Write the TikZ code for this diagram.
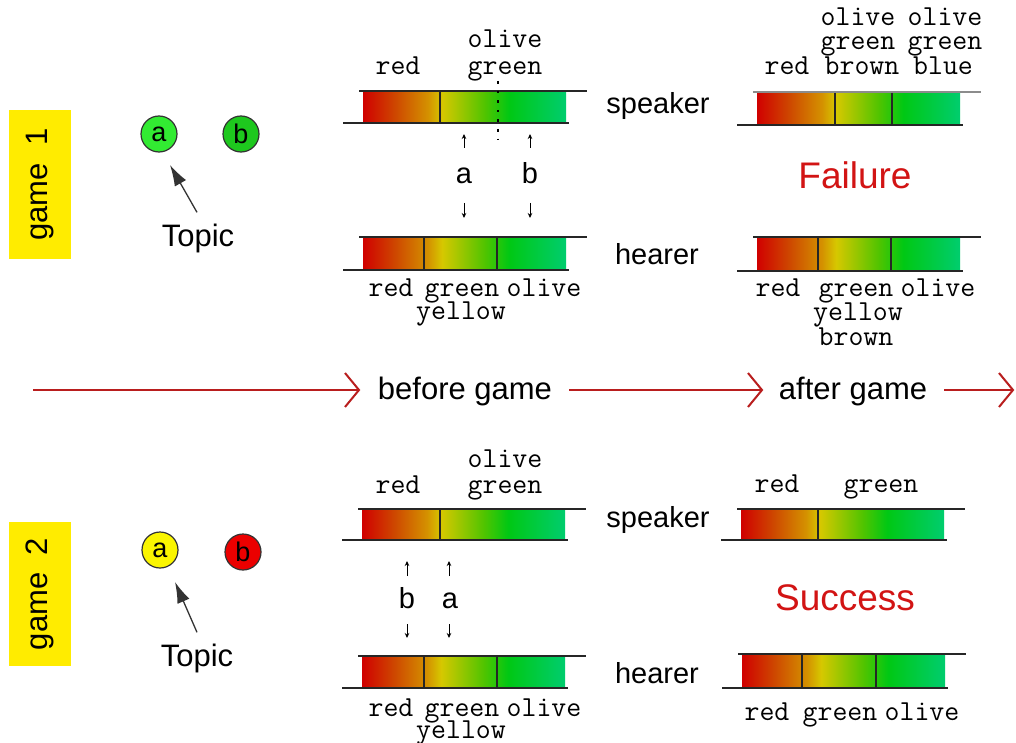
\documentclass[tikz,border=0pt]{standalone}
\usepackage{fontspec}
\setmainfont{Liberation Sans}
\setsansfont{Liberation Sans}
\usetikzlibrary{arrows.meta}
\definecolor{cR}{RGB}{208,0,0}
\definecolor{cO}{RGB}{206,72,0}
\definecolor{cA}{RGB}{212,145,0}
\definecolor{cY}{RGB}{214,200,0}
\definecolor{cYG}{RGB}{80,196,0}
\definecolor{cG}{RGB}{0,200,20}
\definecolor{cT}{RGB}{0,205,110}
\definecolor{gameyellow}{RGB}{255,236,0}
\definecolor{arrowred}{RGB}{185,30,30}
\definecolor{resred}{RGB}{210,20,20}
\definecolor{ballA}{RGB}{50,235,50}
\definecolor{ballB}{RGB}{30,200,30}
\definecolor{ballY}{RGB}{250,245,0}
\definecolor{ballR}{RGB}{235,0,0}
\pgfdeclarehorizontalshading{spectrum}{100bp}{color(0bp)=(cR); color(25bp)=(cR); color(33bp)=(cO); color(41bp)=(cA); color(44.5bp)=(cY); color(55bp)=(cYG); color(61bp)=(cG); color(75bp)=(cT); color(100bp)=(cT)}
\newcommand\colbar[3]{%
  \shade[shading=spectrum] (#1,#2+1.5) rectangle (#1+203,#3-1.5);
  \draw[barline] (#1-4,#2) -- (#1+224,#2);
  \draw[barline] (#1-20,#3) -- (#1+206,#3);
}
\tikzset{
  barline/.style={line width=1.5pt, black!85},
  divline/.style={line width=1.3pt, black!85},
  mono/.style={font=\ttfamily\fontsize{29}{27}\selectfont, inner sep=0pt, anchor=base},
  role/.style={font=\fontsize{29}{30}\selectfont, inner sep=0pt, anchor=base},
  letter/.style={font=\fontsize{29}{30}\selectfont, inner sep=0pt, anchor=base},
  result/.style={font=\fontsize{37}{38}\selectfont, text=resred, inner sep=0pt, anchor=base},
  gamebox/.style={fill=gameyellow, rotate=90, minimum height=62pt, inner sep=0pt, font=\fontsize{31}{32}\selectfont},
  ball/.style={circle, draw=black!80, line width=1.2pt, minimum size=36pt, inner sep=0pt, font=\fontsize{27}{28}\selectfont},
  topic/.style={font=\fontsize{31}{32}\selectfont, inner sep=0pt, anchor=base},
  topicarrow/.style={line width=1.3pt, black!80, -{Latex[length=21pt,width=13pt]}},
  small/.style={line width=0.9pt, -{Stealth[length=5pt,width=4.5pt]}},
  timeline/.style={line width=2pt, arrowred},
  chevron/.style={line width=2pt, arrowred, line join=miter},
  phase/.style={font=\fontsize{31}{32}\selectfont, inner sep=0pt, anchor=base}
}
\begin{document}
\begin{tikzpicture}[x=1pt,y=-1pt]
\useasboundingbox (0,0) rectangle (1016,743);
\fill[white] (0,0) rectangle (1016,743);

% ---------------- game 1 ----------------
\node[gamebox, minimum width=149pt] (g1) at (40,184.5) {game~~1};
\node[ball, fill=ballA] (g1a) at (159,134) {a};
\node[ball, fill=ballB] (g1b) at (241,134) {b};
\node[topic] (g1t) at (198,246) {Topic};
\coordinate (g1tip) at (170,165);
\draw[topicarrow] (g1t.north) ++(-1,-11) -- (g1tip);

% speaker before
\colbar{363}{91}{123}
\draw[divline] (440,92) -- (440,122);
\draw[line width=2.6pt, dash pattern=on 2.6pt off 7pt] (498,81) -- (498,139);
\node[mono] (s1red) at (398,75) {red};
\node[mono] (s1ol) at (505,48) {olive};
\node[mono] (s1gr) at (505,75) {green};
\node[role] (sp1) at (658,114) {speaker};

% a / b
\node[letter] (l1a) at (464,184) {a};
\node[letter] (l1b) at (530,184) {b};
\coordinate (u1a) at (464,148); \coordinate (u1at) at (464,134);
\coordinate (u1b) at (530,148); \coordinate (u1bt) at (530,134);
\draw[small] (u1a) -- (u1at);
\draw[small] (u1b) -- (u1bt);
\coordinate (d1a) at (464,203); \coordinate (d1at) at (464,218);
\coordinate (d1b) at (530,203); \coordinate (d1bt) at (530,218);
\draw[small] (d1a) -- (d1at);
\draw[small] (d1b) -- (d1bt);

% hearer before
\colbar{363}{237}{270}
\draw[divline] (424,238) -- (424,269);
\draw[divline] (497,238) -- (497,269);
\node[mono] (h1red) at (391,296) {red};
\node[mono] (h1gr) at (462,296) {green};
\node[mono] (h1ol) at (544,296) {olive};
\node[mono] (h1ye) at (461,319) {yellow};
\node[role] (he1) at (657,264) {hearer};

% speaker after
\colbar{757}{92}{125}
\draw[line width=1.5pt, black!45] (753,92) -- (981,92);
\draw[divline] (835,93) -- (835,124);
\draw[divline] (892,93) -- (892,124);
\node[mono] (s1ared) at (787,75) {red};
\node[mono] (s1aol) at (858,26) {olive};
\node[mono] (s1agr) at (858,50) {green};
\node[mono] (s1abr) at (862,75) {brown};
\node[mono] (s1aol2) at (945,26) {olive};
\node[mono] (s1agr2) at (945,50) {green};
\node[mono] (s1abl) at (943,75) {blue};

\node[result] (fail) at (855,189) {Failure};

% hearer after
\colbar{757}{237}{271}
\draw[divline] (818,238) -- (818,270);
\draw[divline] (891,238) -- (891,270);
\node[mono] (h1ared) at (778,296) {red};
\node[mono] (h1agr) at (856,296) {green};
\node[mono] (h1aol) at (938,296) {olive};
\node[mono] (h1aye) at (858,320) {yellow};
\node[mono] (h1abr) at (856,345) {brown};

% ---------------- timeline ----------------
\node[phase] (before) at (465,399) {before game};
\node[phase] (after) at (853,399) {after game};
\coordinate (t0) at (33,390);
\coordinate (t1) at (359,390);
\coordinate (t2) at (569,390);
\coordinate (t3) at (762,390);
\coordinate (t4) at (944,390);
\coordinate (t5) at (1013,390);
\draw[timeline] (t0) -- (t1);
\draw[timeline] (t2) -- (t3);
\draw[timeline] (t4) -- (t5);
\draw[chevron] ([shift={(-14,-17)}]t1) -- (t1) -- ([shift={(-14,17)}]t1);
\draw[chevron] ([shift={(-14,-17)}]t3) -- (t3) -- ([shift={(-14,17)}]t3);
\draw[chevron] ([shift={(-14,-17)}]t5) -- (t5) -- ([shift={(-14,17)}]t5);

% ---------------- game 2 ----------------
\node[gamebox, minimum width=144pt] (g2) at (40,594) {game~~2};
\node[ball, fill=ballY] (g2a) at (160,550) {a};
\node[ball, fill=ballR] (g2b) at (243,552) {b};
\node[topic] (g2t) at (197,666) {Topic};
\coordinate (g2tip) at (175,582);
\draw[topicarrow] (g2t.north) ++(0,-11) -- (g2tip);

% speaker before
\colbar{362}{509}{540}
\draw[divline] (440,510) -- (440,539);
\node[mono] (s2red) at (398,493) {red};
\node[mono] (s2ol) at (505,467) {olive};
\node[mono] (s2gr) at (505,493) {green};
\node[role] (sp2) at (658,527) {speaker};

\node[letter] (l2b) at (407,608) {b};
\node[letter] (l2a) at (450,608) {a};
\coordinate (u2b) at (407,576); \coordinate (u2bt) at (407,561);
\coordinate (u2a) at (449,576); \coordinate (u2at) at (449,561);
\draw[small] (u2b) -- (u2bt);
\draw[small] (u2a) -- (u2at);
\coordinate (d2b) at (407,624); \coordinate (d2bt) at (407,638);
\coordinate (d2a) at (449,624); \coordinate (d2at) at (449,638);
\draw[small] (d2b) -- (d2bt);
\draw[small] (d2a) -- (d2at);

% hearer before
\colbar{362}{656}{688}
\draw[divline] (424,657) -- (424,687);
\draw[divline] (497,657) -- (497,687);
\node[mono] (h2red) at (391,716) {red};
\node[mono] (h2gr) at (462,716) {green};
\node[mono] (h2ol) at (544,716) {olive};
\node[mono] (h2ye) at (461,738) {yellow};
\node[role] (he2) at (657,683) {hearer};

% speaker after
\colbar{741}{509}{540}
\draw[divline] (818,510) -- (818,539);
\node[mono] (s2ared) at (777,492) {red};
\node[mono] (s2agr) at (881,492) {green};

\node[result] (succ) at (845,610) {Success};

% hearer after
\colbar{742}{654}{688}
\draw[divline] (802,655) -- (802,687);
\draw[divline] (876,655) -- (876,687);
\node[mono] (h2ared) at (767,720) {red};
\node[mono] (h2agr) at (840,720) {green};
\node[mono] (h2aol) at (922,720) {olive};
\end{tikzpicture}
\end{document}
